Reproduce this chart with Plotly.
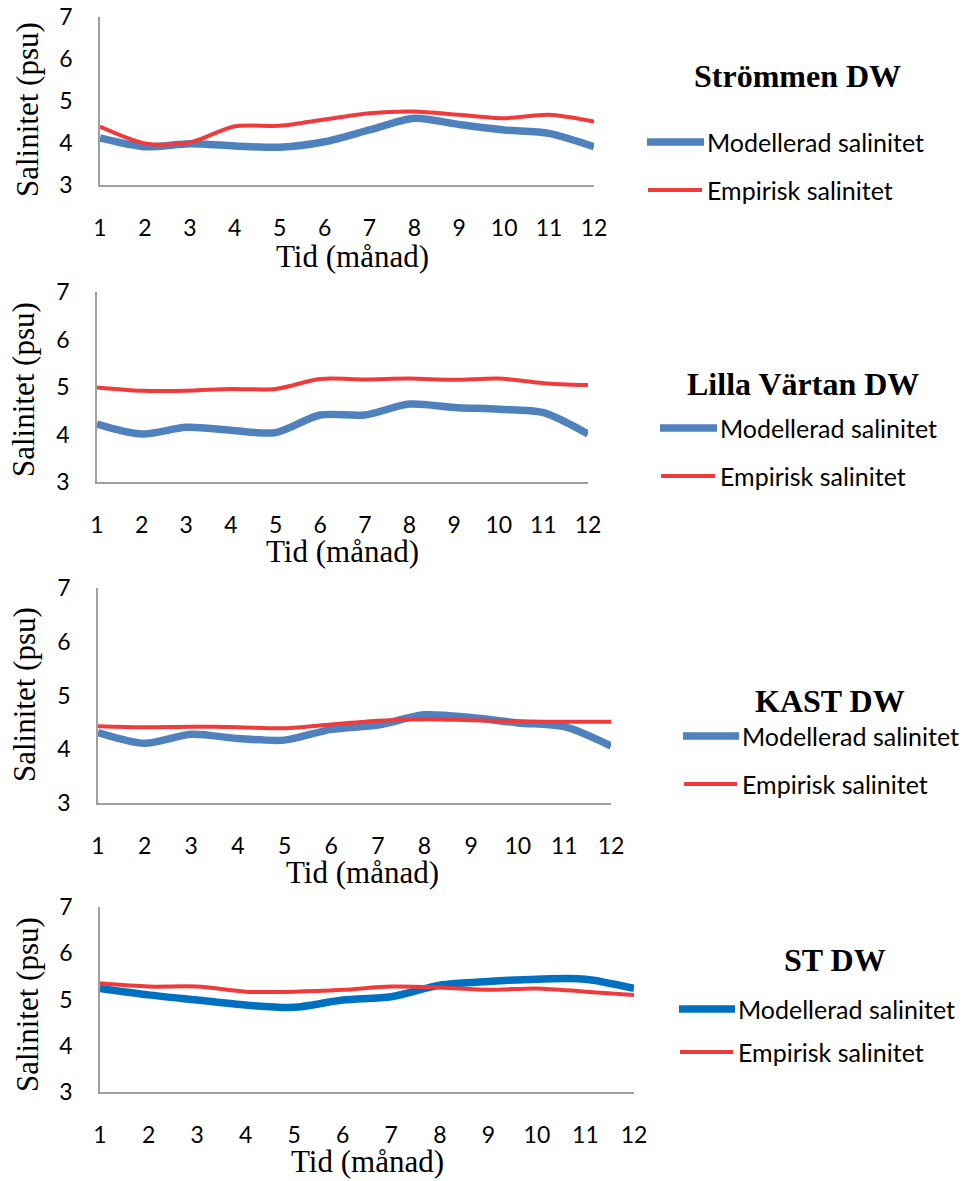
import plotly.graph_objects as go

W, H = 963, 1181

months = list(range(1, 13))
tick_labels = [str(m) for m in months]
y_ticks = [3, 4, 5, 6, 7]

panel_titles = ["Strömmen DW", "Lilla Värtan DW", "KAST DW", "ST DW"]
series_names = ["Modellerad salinitet", "Empirisk salinitet"]

strommen_model = [4.12, 3.91, 3.98, 3.93, 3.90, 4.03, 4.31, 4.59, 4.44, 4.31, 4.23, 3.91]
strommen_emp = [4.39, 3.99, 4.01, 4.40, 4.41, 4.56, 4.71, 4.75, 4.67, 4.59, 4.67, 4.51]

lilla_model = [4.22, 4.01, 4.15, 4.09, 4.04, 4.41, 4.41, 4.64, 4.57, 4.53, 4.46, 4.01]
lilla_emp = [4.99, 4.92, 4.92, 4.96, 4.96, 5.17, 5.16, 5.18, 5.15, 5.18, 5.08, 5.04]

kast_model = [4.31, 4.11, 4.28, 4.20, 4.17, 4.37, 4.45, 4.64, 4.59, 4.49, 4.42, 4.06]
kast_emp = [4.43, 4.41, 4.42, 4.41, 4.39, 4.46, 4.53, 4.56, 4.54, 4.52, 4.51, 4.51]

st_model = [5.24, 5.10, 4.99, 4.88, 4.83, 4.99, 5.06, 5.31, 5.39, 5.44, 5.44, 5.24]
st_emp = [5.35, 5.28, 5.28, 5.17, 5.17, 5.21, 5.28, 5.26, 5.21, 5.24, 5.17, 5.10]

model_data = [strommen_model, lilla_model, kast_model, st_model]
emp_data = [strommen_emp, lilla_emp, kast_emp, st_emp]

model_colors = ["#4F81BD", "#4F81BD", "#4F81BD", "#0070C0"]
emp_color = "#EF3B3B"

# layout geometry in pixels (left, right, top, bottom)
axes_px = [(100, 594, 17, 185), (97, 588, 292, 482), (98, 611, 588, 803), (100, 634, 907, 1092)]
ytitle_px = [(27, 110), (23, 390), (24, 695), (27, 1005)]
xtitle_px = [(352, 256), (342, 551), (362, 872), (367, 1161)]
ptitle_px = [(797, 76), (803, 384), (830, 701), (835, 960)]
legend_px = [(647, 704, 142, 190), (660, 717, 428, 476), (683, 739, 736, 784), (679, 735, 1009, 1052)]


def px_x(x):
    return x / W


def px_y(y):
    return 1 - y / H


SERIF = "Liberation Serif, Times New Roman, serif"
SANS = "Lato, Carlito, Calibri, sans-serif"

fig = go.Figure()
layout = dict(
    width=W, height=H, margin=dict(l=0, r=0, t=0, b=0, autoexpand=False),
    paper_bgcolor="white", plot_bgcolor="white", showlegend=False,
)
annotations = []
shapes = []

for i in range(4):
    n = "" if i == 0 else str(i + 1)
    xa, ya = "x" + n, "y" + n
    l, r, t, b = axes_px[i]
    layout["xaxis" + n] = dict(
        domain=[px_x(l), px_x(r)], range=[1, 12], anchor=ya, automargin=False,
        tickmode="array", tickvals=months, ticktext=tick_labels,
        showline=True, linecolor="#A0A0A0", linewidth=1.5, showgrid=False,
        zeroline=False, ticks="", ticklabelstandoff=22,
        tickfont=dict(family=SANS, size=23, color="#000000"),
    )
    layout["yaxis" + n] = dict(
        domain=[px_y(b), px_y(t)], range=[3, 7], anchor=xa, automargin=False,
        tickmode="array", tickvals=y_ticks,
        showline=True, linecolor="#A0A0A0", linewidth=1.5, showgrid=False,
        zeroline=False, ticks="", ticklabelstandoff=21,
        tickfont=dict(family=SANS, size=23, color="#000000"),
    )
    fig.add_trace(go.Scatter(
        x=months, y=model_data[i], mode="lines", name=series_names[0],
        line=dict(color=model_colors[i], width=7.5, shape="spline", smoothing=0.8),
        xaxis=xa, yaxis=ya,
    ))
    fig.add_trace(go.Scatter(
        x=months, y=emp_data[i], mode="lines", name=series_names[1],
        line=dict(color=emp_color, width=4, shape="spline", smoothing=0.8),
        xaxis=xa, yaxis=ya,
    ))
    # axis titles
    yx, yy = ytitle_px[i]
    annotations.append(dict(
        x=px_x(yx), y=px_y(yy), xref="paper", yref="paper", text="Salinitet (psu)",
        textangle=-90, showarrow=False, xanchor="center", yanchor="middle",
        font=dict(family=SERIF, size=31, color="#000000"),
    ))
    tx, ty = xtitle_px[i]
    annotations.append(dict(
        x=px_x(tx), y=px_y(ty), xref="paper", yref="paper", text="Tid (månad)",
        showarrow=False, xanchor="center", yanchor="middle", borderpad=0,
        font=dict(family=SERIF, size=31, color="#000000"),
    ))
    px_, py_ = ptitle_px[i]
    annotations.append(dict(
        x=px_x(px_), y=px_y(py_), xref="paper", yref="paper",
        text="<b>" + panel_titles[i] + "</b>",
        showarrow=False, xanchor="center", yanchor="middle",
        font=dict(family=SERIF, size=32, color="#000000"),
    ))
    # legend
    lx0, lx1, ly0, ly1 = legend_px[i]
    shapes.append(dict(type="line", xref="paper", yref="paper",
                       x0=px_x(lx0), x1=px_x(lx1), y0=px_y(ly0), y1=px_y(ly0),
                       line=dict(color=model_colors[i], width=7.5)))
    shapes.append(dict(type="line", xref="paper", yref="paper",
                       x0=px_x(lx0 + 1), x1=px_x(lx1 - 2), y0=px_y(ly1), y1=px_y(ly1),
                       line=dict(color=emp_color, width=4)))
    annotations.append(dict(
        x=px_x(lx1 + 1), y=px_y(ly0), xref="paper", yref="paper", text=series_names[0],
        showarrow=False, xanchor="left", yanchor="middle",
        font=dict(family=SANS, size=25, color="#000000"),
    ))
    annotations.append(dict(
        x=px_x(lx1 + 1), y=px_y(ly1), xref="paper", yref="paper", text=series_names[1],
        showarrow=False, xanchor="left", yanchor="middle",
        font=dict(family=SANS, size=25, color="#000000"),
    ))

layout["annotations"] = annotations
layout["shapes"] = shapes
fig.update_layout(**layout)
fig.write_html("out.html")
